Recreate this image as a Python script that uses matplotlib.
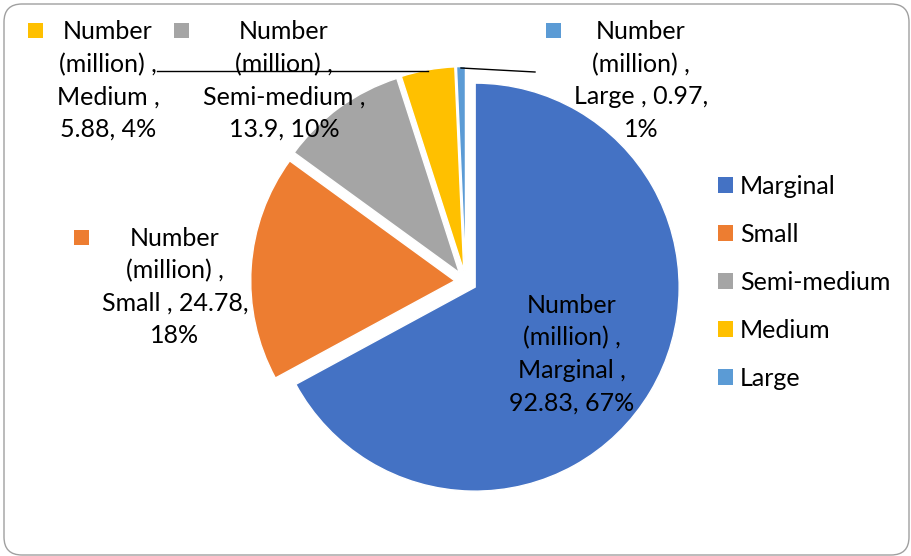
import matplotlib
matplotlib.use("Agg")
import matplotlib.pyplot as plt
from matplotlib.patches import FancyBboxPatch, Rectangle

categories = ["Marginal", "Small", "Semi-medium", "Medium", "Large"]
values = [92.83, 24.78, 13.9, 5.88, 0.97]
colors = ["#4472C4", "#ED7D31", "#A5A5A5", "#FFC000", "#5B9BD5"]
series_name = "Number (million)"
# whether the value goes on its own line after the category
value_on_new_line = [True, False, True, True, False]

W, H = 912, 556
plt.rcParams['font.family'] = ['Lato', 'DejaVu Sans']
fig = plt.figure(figsize=(W / 100, H / 100), dpi=100)
ax = fig.add_axes([0, 0, 1, 1])

def Y(p):
    return H - p

wedges, _ = ax.pie(values, colors=colors, startangle=90, counterclock=False,
                   explode=[11] * len(values), radius=204, center=(465.7, Y(281.5)),
                   wedgeprops=dict(edgecolor='white', linewidth=1))
ax.set_xlim(0, W)
ax.set_ylim(0, H)
ax.set_aspect('equal')
ax.axis('off')

total = sum(values)
fs = 18
label_pos = [(572, 354), (175, 287), (284, 80.5), (108, 80.5), (641, 80.5)]
key_pos = [None, (74, 230), (174, 23), (28, 23), (546, 23)]
nm = series_name.split(" ")
for i, (cat, v) in enumerate(zip(categories, values)):
    pct = round(100 * v / total)
    if value_on_new_line[i]:
        txt = f"{nm[0]}\n{nm[1]} ,\n{cat} ,\n{v:g}, {pct}%"
    else:
        txt = f"{nm[0]}\n{nm[1]} ,\n{cat} , {v:g},\n{pct}%"
    x, y = label_pos[i]
    ax.text(x, Y(y), txt, ha='center', va='center', fontsize=fs,
            linespacing=1.5, color='#000000')
    if key_pos[i] is not None:
        kx, ky = key_pos[i]
        ax.add_patch(Rectangle((kx, Y(ky + 15)), 15, 15, color=colors[i], lw=0))

# leader lines
ax.plot([157, 428], [Y(71), Y(71)], color='black', lw=1)
ax.plot([461, 535], [Y(68), Y(72)], color='black', lw=1)

leg = ax.legend(wedges, categories, loc='upper left',
                bbox_to_anchor=(706 / W, 1 - 162 / H), bbox_transform=fig.transFigure,
                frameon=False, fontsize=fs, handlelength=0.6, handleheight=0.6,
                handletextpad=0.25, labelspacing=1.0, borderpad=0)
for p in leg.get_patches():
    p.set_edgecolor('none')

frame = FancyBboxPatch((4, Y(555)), 905, 551, boxstyle="round,pad=0,rounding_size=18",
                       facecolor='none', edgecolor='#A0A0A0', lw=1, transform=ax.transData,
                       clip_on=False)
ax.add_patch(frame)

fig.savefig("out.png", dpi=100)
